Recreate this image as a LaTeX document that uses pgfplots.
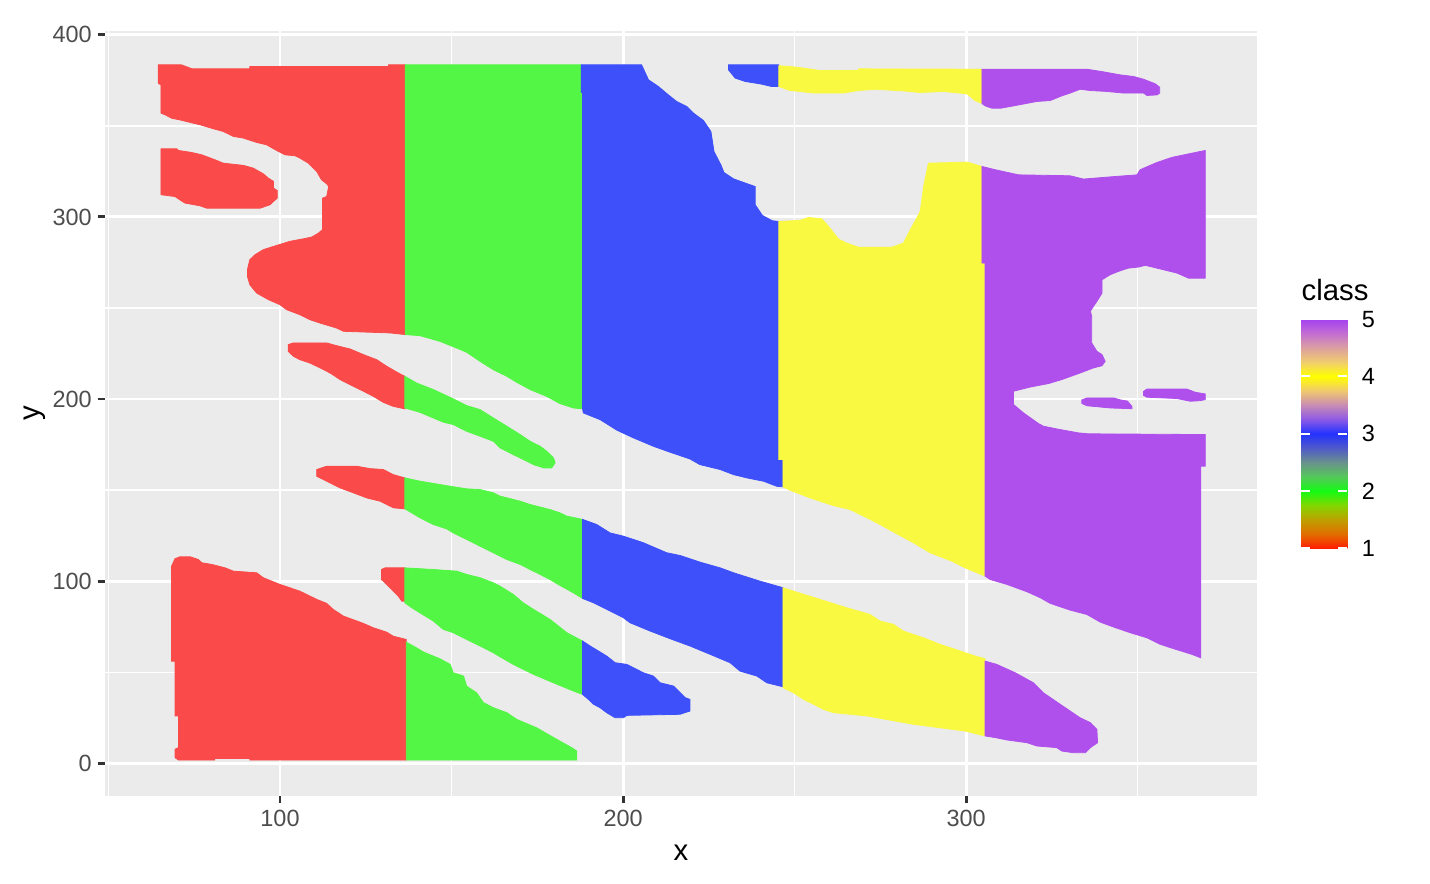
\documentclass[border=0pt]{standalone}
\usepackage{fontspec}
\setmainfont{Liberation Sans}
\usepackage{pgfplots}
\pgfplotsset{compat=1.18}

\definecolor{panelbg}{HTML}{EBEBEB}
\definecolor{gray20}{HTML}{333333}
\definecolor{gray30}{HTML}{4D4D4D}
\definecolor{c1}{RGB}{250,74,74}
\definecolor{c2}{RGB}{84,246,69}
\definecolor{c3}{RGB}{62,80,250}
\definecolor{c4}{RGB}{250,249,66}
\definecolor{c5}{RGB}{175,80,237}

\pgfplotsset{
  colormap={classmap}{
    rgb255(0)=(255,30,0) rgb255(1)=(225,110,0) rgb255(2)=(190,160,0) rgb255(3)=(130,215,0)
    rgb255(4)=(20,250,20) rgb255(5)=(85,200,90) rgb255(6)=(105,145,140) rgb255(7)=(80,90,200)
    rgb255(8)=(35,50,255) rgb255(9)=(140,90,230) rgb255(10)=(200,140,180) rgb255(11)=(240,200,110)
    rgb255(12)=(255,255,0) rgb255(13)=(240,205,110) rgb255(14)=(220,160,160) rgb255(15)=(195,110,210)
    rgb255(16)=(165,65,240)
  },
  cls/.style={draw=#1, line width=0.3pt, fill=#1, mark=none, forget plot},
}

\begin{document}
\begin{tikzpicture}
\useasboundingbox (0,0) rectangle (536.25pt,331.5pt);
\begin{axis}[
  at={(39.37pt,33.11pt)}, anchor=south west,
  scale only axis, width=431.9pt, height=286.9pt,
  xmin=48.99, xmax=384.69, ymin=-17.8, ymax=402.3,
  axis background/.style={fill=panelbg},
  axis line style={draw=none},
  grid=both,
  major grid style={white, line width=1.07pt},
  minor grid style={white, line width=0.53pt},
  xtick={100,200,300}, ytick={0,100,200,300,400},
  minor xtick={50,150,250,350}, minor ytick={50,150,250,350},
  minor tick length=0pt,
  tick align=outside, major tick length=2.75pt,
  xtick pos=bottom, ytick pos=left,
  tick style={draw=gray20, line width=1.07pt},
  ticklabel style={font=\fontsize{8.8}{10}\selectfont, text=gray30, inner sep=0pt},
  xticklabel style={yshift=-2.4pt},
  yticklabel style={xshift=-2.0pt},
  /pgf/number format/assume math mode=true,
  xlabel={x}, ylabel={y},
  label style={font=\fontsize{11}{13}\selectfont, inner sep=0pt},
  xlabel style={at={(axis description cs:0.5,0)}, anchor=base, yshift=-24.2pt},
  ylabel style={at={(axis description cs:0,0.5)}, anchor=base, yshift=24.4pt},
  colorbar, colormap name=classmap, point meta min=1, point meta max=5,
  colorbar/width=17.4pt,
  colorbar style={
    at={(parent axis.north east)}, anchor=north west,
    xshift=8.1pt, yshift=-108.2pt,
    scale only axis, enlargelimits=false,
    width=17.4pt, height=85.9pt,
    axis on top, grid=none,
    axis line style={draw=none},
    ytick={1,2,3,4,5}, ytick pos=both, yticklabel pos=right,
    tick align=inside, major tick length=3.45pt,
    tick style={draw=white, line width=0.8pt},
    yticklabel style={font=\fontsize{8.8}{10}\selectfont, text=black, inner sep=0pt, xshift=5.2pt},
    /pgf/number format/assume math mode=true,
    title={class},
    title style={at={(axis description cs:0,1)}, anchor=base west, yshift=1pt, inner sep=0pt,
      font=\fontsize{11}{13}\selectfont},
  },
]
% class 1
\addplot[cls=c1] coordinates {(64.5,383.5) (71.3,383.5) (74.4,381.3) (91.2,381.3) (91.2,382.6) (131.6,382.6) (131.6,383.5) (136.5,383.5) (136.5,235.4) (132.1,236.3) (118.5,237.2) (116.5,239.0) (111.7,241.7) (108.7,243.6) (105.8,246.3) (101.9,249.1) (100.0,251.8) (96.6,254.6) (93.2,258.2) (91.2,262.8) (90.5,267.4) (90.5,271.0) (91.2,276.5) (92.7,279.2) (95.1,282.0) (98.1,283.8) (102.9,286.6) (106.3,287.8) (109.2,288.9) (111.2,291.1) (112.4,293.0) (112.4,310.3) (113.6,311.2) (114.2,316.7) (113.6,318.2) (112.1,320.4) (110.7,325.0) (108.3,329.5) (105.8,332.3) (104.4,333.6) (101.5,334.1) (99.0,336.5) (96.1,339.6) (93.2,340.9) (89.3,343.3) (86.4,344.2) (83.5,346.9) (80.6,348.4) (76.7,350.6) (73.8,351.9) (70.8,353.3) (68.4,354.2) (66.5,356.1) (65.3,357.0) (65.3,372.5) (64.5,373.4)} --cycle;
\addplot[cls=c1] coordinates {(65.3,337.4) (69.9,337.4) (70.4,336.5) (74.2,335.4) (77.2,334.1) (81.0,331.4) (83.5,329.5) (89.3,328.3) (92.2,326.8) (95.1,323.7) (96.6,321.3) (98.1,319.5) (98.1,315.8) (99.2,314.5) (99.2,310.3) (98.1,308.5) (97.1,306.7) (94.2,304.8) (78.6,304.8) (76.7,306.1) (72.3,307.6) (70.8,309.4) (69.4,311.2) (65.3,312.2)} --cycle;
\addplot[cls=c1] coordinates {(102.4,229.9) (103.9,230.8) (113.6,230.8) (116.5,229.3) (120.4,227.5) (124.3,224.4) (128.2,221.6) (131.1,218.0) (134.5,214.3) (136.4,212.5) (136.4,194.6) (133.0,196.0) (130.1,198.2) (127.2,201.5) (124.3,204.3) (120.4,207.9) (117.5,210.7) (114.6,214.3) (111.7,217.1) (108.7,219.8) (105.8,221.6) (103.9,223.5) (102.4,226.2)} --cycle;
\addplot[cls=c1] coordinates {(110.7,161.3) (113.6,163.1) (122.4,163.1) (126.2,161.8) (130.1,161.3) (133.0,158.5) (136.4,156.7) (136.4,139.7) (133.0,140.3) (129.2,143.9) (125.3,145.7) (121.4,148.5) (117.5,151.2) (113.6,154.9) (110.7,157.6)} --cycle;
\addplot[cls=c1] coordinates {(129.6,106.4) (130.6,107.3) (136.4,107.3) (136.4,89.0) (135.5,89.0) (134.5,91.8) (132.6,95.4) (131.1,98.2) (129.6,100.9)} --cycle;
\addplot[cls=c1] coordinates {(68.4,108.2) (69.4,112.3) (70.8,113.4) (73.8,113.4) (76.2,111.9) (77.2,110.1) (80.1,109.2) (84.0,107.3) (86.4,105.5) (93.2,104.6) (95.1,101.9) (100.0,98.2) (105.8,94.5) (110.7,90.0) (113.6,87.8) (115.5,84.5) (118.5,80.8) (124.3,76.8) (127.2,74.4) (131.1,72.0) (133.0,69.8) (136.8,68.0) (136.8,1.8) (91.2,1.8) (91.2,2.7) (81.0,2.7) (81.0,1.8) (70.4,1.8) (69.4,3.1) (69.4,7.7) (70.4,8.6) (70.4,26.0) (69.4,26.0) (69.4,56.1) (68.4,56.1)} --cycle;
% class 2
\addplot[cls=c2] coordinates {(136.5,383.5) (187.8,383.5) (187.8,368.3) (188.2,368.3) (188.2,194.6) (185.5,195.1) (181.6,197.5) (177.7,201.5) (172.9,205.2) (169.0,209.2) (166.1,212.5) (162.2,216.1) (158.3,220.7) (154.4,225.7) (151.5,228.0) (146.6,231.7) (140.8,234.8) (136.5,235.4)} --cycle;
\addplot[cls=c2] coordinates {(136.4,212.5) (139.8,208.8) (144.7,205.2) (149.6,200.9) (154.4,196.4) (158.3,194.2) (162.2,189.6) (166.1,185.1) (170.0,180.5) (172.9,176.8) (175.8,174.1) (177.7,171.4) (179.7,167.7) (180.2,165.0) (179.2,162.2) (176.8,162.2) (173.9,164.0) (170.9,166.8) (168.0,169.5) (164.1,173.2) (162.2,176.8) (158.3,179.6) (154.4,182.3) (150.5,186.0) (147.6,187.3) (144.7,189.6) (140.8,192.7) (136.4,195.1)} --cycle;
\addplot[cls=c2] coordinates {(136.4,156.7) (140.8,154.9) (149.6,152.1) (154.4,150.7) (158.3,150.3) (162.2,148.5) (164.1,146.7) (170.0,143.9) (172.9,142.1) (178.7,139.3) (181.6,137.5) (183.6,135.7) (188.2,133.9) (188.2,90.5) (185.5,93.6) (181.1,98.2) (178.7,100.9) (175.8,103.7) (172.9,106.4) (170.0,109.2) (166.1,111.9) (162.2,115.6) (158.3,119.2) (154.4,122.9) (150.5,126.5) (148.6,128.7) (144.7,131.1) (140.8,134.8) (138.4,137.5) (136.4,139.7)} --cycle;
\addplot[cls=c2] coordinates {(136.4,107.3) (144.7,106.4) (151.5,105.5) (154.4,103.7) (158.3,101.9) (162.2,99.1) (164.1,97.3) (168.0,92.7) (170.9,88.1) (173.9,84.5) (178.7,79.0) (183.6,71.7) (188.2,67.1) (188.2,37.8) (185.5,39.7) (179.7,44.2) (173.9,48.8) (168.0,54.3) (164.1,58.5) (162.2,60.7) (158.3,64.4) (154.4,68.0) (150.5,71.7) (147.6,73.5) (144.7,78.1) (140.8,82.6) (138.4,85.4) (136.4,88.1)} --cycle;
\addplot[cls=c2] coordinates {(136.8,66.5) (139.8,63.4) (141.8,61.1) (146.6,57.4) (149.6,54.3) (150.5,49.7) (153.5,47.9) (154.4,42.4) (157.3,38.7) (159.3,33.3) (162.2,30.5) (166.1,27.8) (169.0,24.1) (174.8,19.5) (180.7,13.1) (185.0,8.6) (186.5,6.7) (186.5,1.8) (136.8,1.8)} --cycle;
% class 3
\addplot[cls=c3] coordinates {(187.8,383.5) (205.4,383.5) (207.4,375.3) (210.3,371.6) (213.2,367.0) (215.6,363.4) (218.6,360.6) (220.5,357.0) (223.4,353.0) (225.6,346.9) (226.5,335.9) (228.5,328.6) (229.4,324.4) (232.2,320.9) (235.6,318.6) (238.5,316.7) (238.5,306.7) (240.6,300.8) (243.5,297.9) (245.4,297.5) (245.4,166.8) (246.6,166.8) (246.6,151.8) (244.8,152.1) (240.9,154.9) (236.1,156.7) (232.2,158.5) (228.3,161.3) (222.4,164.0) (219.5,167.1) (213.7,170.8) (208.8,174.1) (203.0,178.7) (198.2,182.9) (193.3,188.7) (188.4,192.4) (188.2,194.6) (188.2,368.3) (187.8,368.3)} --cycle;
\addplot[cls=c3] coordinates {(230.7,383.5) (245.4,383.5) (245.4,371.6) (243.3,371.6) (240.4,372.9) (235.6,374.4) (232.7,376.2) (230.7,380.8)} --cycle;
\addplot[cls=c3] coordinates {(188.2,133.9) (192.3,131.1) (196.2,126.5) (200.1,124.7) (205.9,121.1) (212.7,115.6) (216.6,114.1) (222.5,110.4) (228.3,107.3) (232.2,104.6) (239.9,100.0) (246.6,96.4) (246.6,42.0) (241.9,44.2) (239.0,47.9) (234.1,50.6) (231.2,55.2) (225.4,59.8) (219.5,64.4) (213.7,68.4) (207.9,72.6) (202.0,77.2) (200.1,79.9) (197.2,82.7) (191.4,88.1) (188.2,90.5)} --cycle;
\addplot[cls=c3] coordinates {(188.2,67.1) (190.4,64.4) (195.2,58.9) (197.7,55.2) (201.1,54.3) (205.9,49.7) (208.8,47.9) (210.8,44.2) (214.7,42.4) (218.1,36.0) (219.5,35.1) (219.5,28.7) (216.6,26.9) (201.1,26.3) (200.1,25.0) (197.7,25.0) (195.2,27.8) (193.3,30.5) (191.4,32.4) (189.9,35.1) (188.2,37.8)} --cycle;
% class 4
\addplot[cls=c4] coordinates {(245.4,383.0) (248.7,382.6) (252.6,381.7) (257.4,380.4) (268.6,380.4) (268.6,381.3) (304.6,381.1) (304.6,362.3) (302.6,363.9) (301.2,366.1) (300.2,367.6) (293.4,368.9) (286.6,368.3) (281.7,369.2) (273.5,370.1) (268.6,369.4) (264.2,368.0) (255.5,368.0) (251.6,368.9) (248.7,369.4) (246.7,370.7) (245.4,371.6)} --cycle;
\addplot[cls=c4] coordinates {(245.4,297.5) (251.6,298.1) (254.0,299.7) (257.9,299.0) (259.9,294.8) (262.8,287.8) (265.2,285.6) (268.6,283.4) (278.3,283.4) (281.7,285.6) (283.7,292.9) (285.6,299.4) (286.6,303.0) (287.6,316.7) (289.0,329.5) (300.2,330.1) (304.6,327.7) (304.6,274.7) (305.5,274.7) (305.5,102.8) (299.7,107.3) (295.8,111.0) (289.5,115.6) (284.6,121.1) (279.3,126.5) (274.9,131.1) (272.0,133.9) (266.2,139.3) (261.3,141.5) (254.5,145.7) (248.7,149.9) (246.6,151.8) (246.6,166.8) (245.4,166.8)} --cycle;
\addplot[cls=c4] coordinates {(246.6,96.4) (249.7,94.5) (257.4,90.0) (265.2,85.4) (272.0,81.7) (274.9,78.1) (278.8,76.3) (281.7,72.6) (287.6,68.9) (292.4,65.3) (298.3,61.6) (302.6,58.9) (305.5,57.4) (305.5,15.0) (299.7,17.7) (294.4,19.0) (284.6,21.4) (280.8,22.7) (271.0,26.0) (261.3,27.8) (258.4,29.6) (255.5,32.4) (252.6,35.1) (249.7,38.7) (246.6,41.5)} --cycle;
% class 5
\addplot[cls=c5] coordinates {(304.6,381.1) (335.2,381.1) (339.6,379.8) (344.9,378.0) (348.8,377.1) (351.7,375.6) (355.1,373.1) (356.4,371.2) (356.4,368.0) (355.6,367.0) (352.7,366.7) (351.7,368.0) (345.9,368.0) (341.0,368.9) (336.2,369.4) (333.2,370.1) (330.3,368.0) (327.9,366.5) (324.5,363.9) (320.6,363.4) (315.3,361.5) (310.1,359.7) (307.5,359.7) (305.5,361.0) (304.6,362.3)} --cycle;
\addplot[cls=c5] coordinates {(304.6,327.7) (308.5,325.9) (315.3,323.1) (330.3,322.6) (334.2,320.8) (343.4,322.2) (349.8,323.1) (350.7,325.9) (355.6,329.9) (360.0,332.7) (365.8,335.0) (369.7,336.5) (369.7,266.4) (364.8,266.4) (361.4,269.2) (357.5,271.0) (353.6,272.8) (352.2,273.4) (350.3,272.5) (347.3,271.9) (344.4,270.1) (342.0,268.3) (339.6,265.5) (339.6,258.2) (338.1,253.6) (337.1,250.9) (336.2,248.2) (336.6,245.4) (336.6,230.8) (338.1,226.2) (339.6,224.4) (340.5,220.7) (339.6,218.3) (337.1,217.1) (333.2,214.3) (327.9,210.7) (324.0,208.5) (318.7,206.6) (313.8,204.3) (313.8,197.0) (316.7,192.4) (321.1,186.5) (322.5,185.1) (326.4,183.6) (332.8,181.4) (335.7,180.9) (369.7,180.5) (369.7,163.1) (368.4,163.1) (368.4,57.9) (365.8,59.8) (360.5,62.9) (356.6,65.3) (352.7,68.9) (347.8,71.7) (343.0,74.8) (339.1,77.5) (335.2,81.7) (330.3,84.1) (324.5,87.8) (321.6,90.9) (317.7,94.2) (311.9,98.2) (307.0,100.9) (305.5,102.8) (305.5,274.7) (304.6,274.7)} --cycle;
\addplot[cls=c5] coordinates {(333.7,199.5) (335.2,200.6) (343.0,200.6) (345.0,199.5) (347.0,198.9) (348.3,196.0) (348.3,194.7) (342.0,195.1) (335.2,196.3) (333.7,197.6)} --cycle;
\addplot[cls=c5] coordinates {(351.7,204.2) (352.7,205.5) (364.3,205.5) (366.8,203.7) (369.7,202.8) (369.7,199.7) (368.2,199.1) (365.3,198.8) (361.4,200.3) (352.7,201.0) (351.7,202.0)} --cycle;
\addplot[cls=c5] coordinates {(305.5,56.1) (308.9,54.3) (314.3,49.7) (319.6,44.2) (322.5,38.7) (327.4,32.4) (333.2,25.0) (336.2,22.3) (338.1,18.6) (338.3,11.3) (336.2,8.6) (334.7,5.8) (331.3,5.8) (327.9,6.7) (326.4,8.6) (320.6,9.5) (317.7,11.3) (311.9,12.8) (308.5,14.1) (305.5,15.0)} --cycle;
\end{axis}
\end{tikzpicture}
\end{document}
